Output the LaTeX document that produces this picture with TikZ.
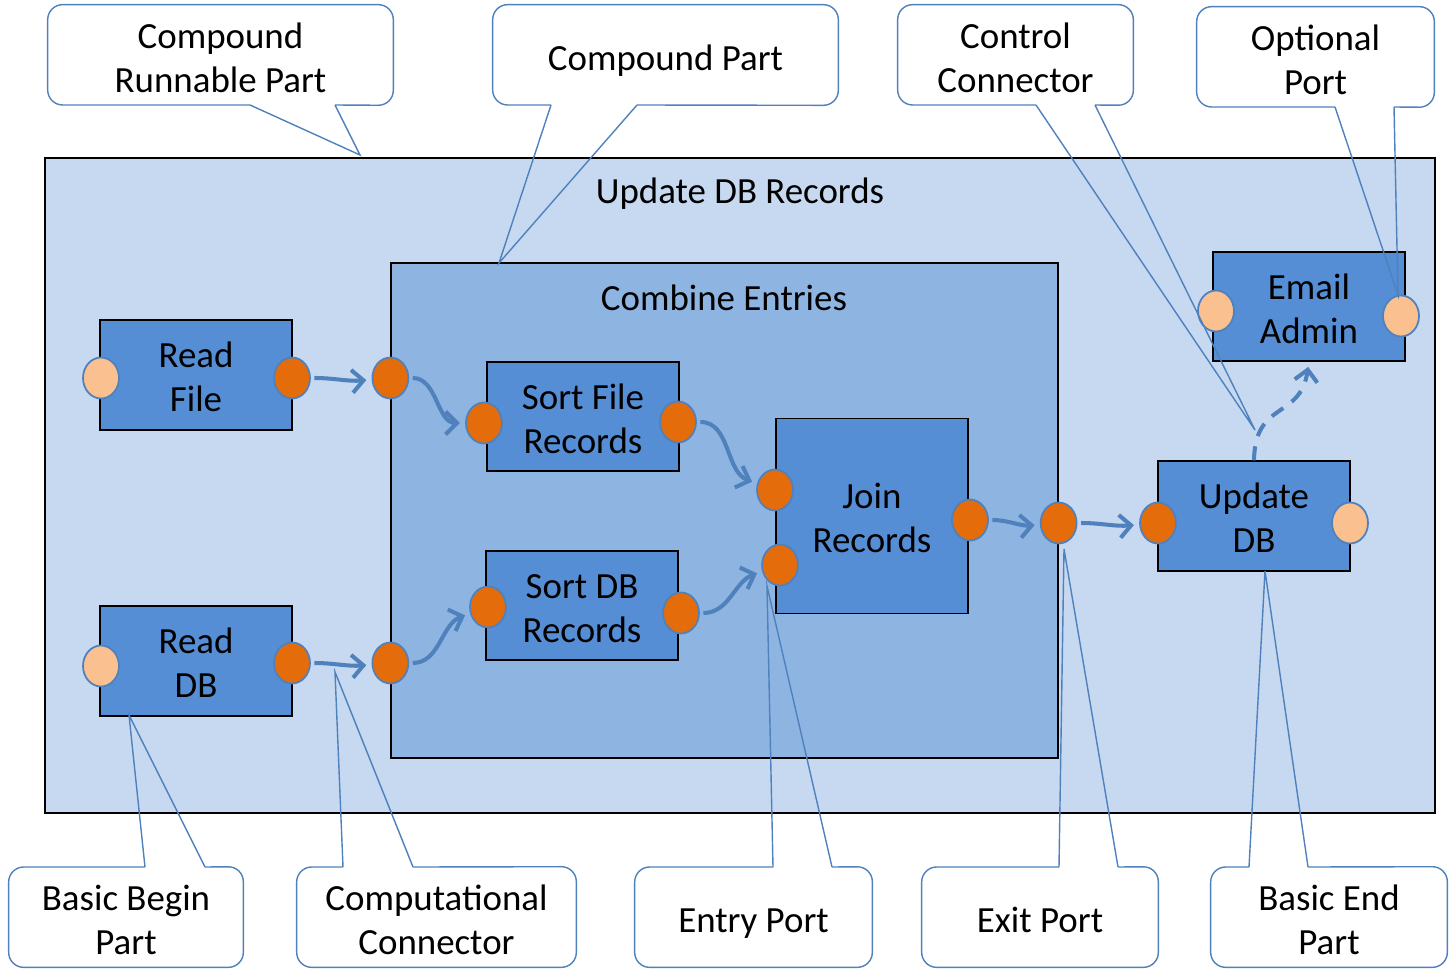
\documentclass[tikz,border=0pt]{standalone}
\usepackage{fontspec}
\setmainfont{Carlito}
\usepackage{tikz}
\usetikzlibrary{arrows.meta, positioning, shapes.geometric}

\definecolor{outerfill}{RGB}{198,217,240}
\definecolor{innerfill}{RGB}{142,180,226}
\definecolor{partfill}{RGB}{85,142,213}
\definecolor{portorange}{RGB}{228,108,10}
\definecolor{portlight}{RGB}{250,192,144}
\definecolor{lineblue}{RGB}{79,129,189}

\newcommand{\diagfont}{\fontsize{21}{25}\selectfont}

\tikzset{
  compound/.style={draw=black, line width=0.8pt, inner sep=0pt},
  part/.style={draw=black, fill=partfill, line width=0.8pt, minimum width=3.84cm, minimum height=2.2cm, inner sep=0pt, align=center, font=\diagfont, text height=42pt, text depth=0pt},
  port/.style={ellipse, draw=lineblue, line width=1pt, fill=portorange, minimum width=0.72cm, minimum height=0.82cm, inner sep=0pt},
  optport/.style={port, fill=portlight},
  flow/.style={draw=lineblue, line width=2.3pt, -{Straight Barb[length=6.5pt,width=13pt]}, shorten >=3pt, shorten <=2pt},
  callout/.style={fill=white, rounded corners=0.3cm, minimum height=2cm, inner sep=0pt, align=center, font=\diagfont, text height=43pt, text depth=0pt},
  oneline/.style={text height=18pt},
  callline/.style={draw=lineblue, line width=0.8pt}
}

\begin{document}
\begin{tikzpicture}[x=0.02cm, y=-0.02cm]
    \useasboundingbox (0,0) rectangle (1454,980);

    % outer runnable part
    \node[compound, fill=outerfill, minimum width=27.8cm, minimum height=13.1cm] (runnable) at (740,485.5) {};
    \node[font=\diagfont] (runnableTitle) at (740,194) {Update DB Records};

    % inner compound part
    \node[compound, fill=innerfill, minimum width=13.34cm, minimum height=9.9cm] (combine) at (724.5,510.5) {};
    \node[font=\diagfont] (combineTitle) at (724,298) {Combine Entries};

    % parts
    \node[part] (readFile) at (196,375) {Read\\File};
    \node[part] (readDB) at (196,661) {Read\\DB};
    \node[part, minimum height=2.18cm] (sortFile) at (583,416.5) {Sort File\\Records};
    \node[part, minimum height=2.18cm] (sortDB) at (582,605.5) {Sort DB\\Records};
    \node[part, minimum height=3.9cm] (join) at (872,516) {Join\\Records};
    \node[part] (updateDB) at (1254,516) {Update\\DB};
    \node[part, minimum height=2.18cm] (email) at (1309,306.5) {Email\\Admin};

    % ports
    \node[optport] (pReadFileIn) at (101,378) {};
    \node[port] (pReadFileOut) at (292,378) {};
    \node[optport] (pReadDBIn) at (101,666) {};
    \node[port] (pReadDBOut) at (292,663) {};
    \node[port] (pCombineTop) at (combine.west |- pReadFileOut) {};
    \node[port] (pCombineBot) at (combine.west |- pReadDBOut) {};
    \node[port] (pSortFileIn) at (484,423) {};
    \node[port] (pSortFileOut) at (678,422) {};
    \node[port] (pSortDBIn) at (488,607) {};
    \node[port] (pSortDBOut) at (681,613) {};
    \node[port] (pJoinTop) at (775,490) {};
    \node[port] (pJoinBot) at (780,565) {};
    \node[port] (pJoinOut) at (970,520) {};
    \node[port] (pCombineOut) at (combine.east |- 0,523) {};
    \node[port] (pUpdateIn) at (1158,523) {};
    \node[optport] (pUpdateOut) at (1350,523) {};
    \node[optport] (pEmailIn) at (1216,311) {};
    \node[optport] (pEmailOut) at (1401,316) {};

    % computational connectors
    \draw[flow] (pReadFileOut) to[out=0, in=185] (pCombineTop);
    \draw[flow] (pCombineTop) to[out=0, in=180] (pSortFileIn);
    \draw[flow] (pSortFileOut) to[out=0, in=160] (pJoinTop);
    \draw[flow] (pReadDBOut) to[out=0, in=185] (pCombineBot);
    \draw[flow] (pCombineBot) to[out=0, in=200] (pSortDBIn);
    \draw[flow] (pSortDBOut) to[out=0, in=200] (pJoinBot);
    \draw[flow] (pJoinOut) to[out=0, in=185] (pCombineOut);
    \draw[flow] (pCombineOut) to[out=0, in=185] (pUpdateIn);

    % control connector
    \draw[flow, shorten <=0pt, dash pattern=on 8pt off 6pt] (updateDB.north) .. controls (1255,400) and (1300,420) .. (email.south);

    % callouts, top row
    \node[callout, minimum width=6.9cm] (cRunnable) at (220.5,55) {Compound\\Runnable Part};
    \draw[callline, rounded corners=0.3cm] (250,105) -| (cRunnable.north west) -| (cRunnable.south east) -- (335,105);
    \draw[callline] (250,105) -- (360,155) -- (335,105);

    \node[callout, oneline, minimum width=6.9cm] (cCompound) at (665.5,55) {Compound Part};
    \draw[callline, rounded corners=0.3cm] (551,105) -| (cCompound.north west) -| (cCompound.south east) -- (637,105);
    \draw[callline] (551,105) -- (499,263) -- (637,105);

    \node[callout, minimum width=4.7cm] (cControl) at (1015.5,55) {Control\\Connector};
    \draw[callline, rounded corners=0.3cm] (1036,105) -| (cControl.north west) -| (cControl.south east) -- (1095,105);
    \draw[callline] (1036,105) -- (1255,430) -- (1095,105);

    \node[callout, minimum width=4.74cm] (cOptional) at (1315.5,57) {Optional\\Port};
    \draw[callline, rounded corners=0.3cm] (1335,107) -| (cOptional.north west) -| (cOptional.south east) -- (1394,107);
    \draw[callline] (1335,107) -- (1398,295) -- (1394,107);

    % callouts, bottom row
    \node[callout, minimum width=4.68cm] (cBegin) at (126,917) {Basic Begin\\Part};
    \draw[callline, rounded corners=0.3cm] (145,867) -| (cBegin.south west) -| (cBegin.north east) -- (205,867);
    \draw[callline] (145,867) -- (129,715) -- (205,867);

    \node[callout, minimum width=5.58cm] (cComputational) at (436.5,917) {Computational\\Connector};
    \draw[callline, rounded corners=0.3cm] (343,867) -| (cComputational.south west) -| (cComputational.north east) -- (413,867);
    \draw[callline] (343,867) -- (335,672) -- (413,867);

    \node[callout, oneline, minimum width=4.74cm] (cEntry) at (753.5,917) {Entry Port};
    \draw[callline, rounded corners=0.3cm] (773,867) -| (cEntry.south west) -| (cEntry.north east) -- (832,867);
    \draw[callline] (773,867) -- (767,586) -- (832,867);

    \node[callout, oneline, minimum width=4.72cm] (cExit) at (1040,917) {Exit Port};
    \draw[callline, rounded corners=0.3cm] (1059,867) -| (cExit.south west) -| (cExit.north east) -- (1118,867);
    \draw[callline] (1059,867) -- (1064,549) -- (1118,867);

    \node[callout, minimum width=4.72cm] (cEnd) at (1329,917) {Basic End\\Part};
    \draw[callline, rounded corners=0.3cm] (1249,867) -| (cEnd.south west) -| (cEnd.north east) -- (1308,867);
    \draw[callline] (1249,867) -- (1265,571) -- (1308,867);
\end{tikzpicture}
\end{document}
